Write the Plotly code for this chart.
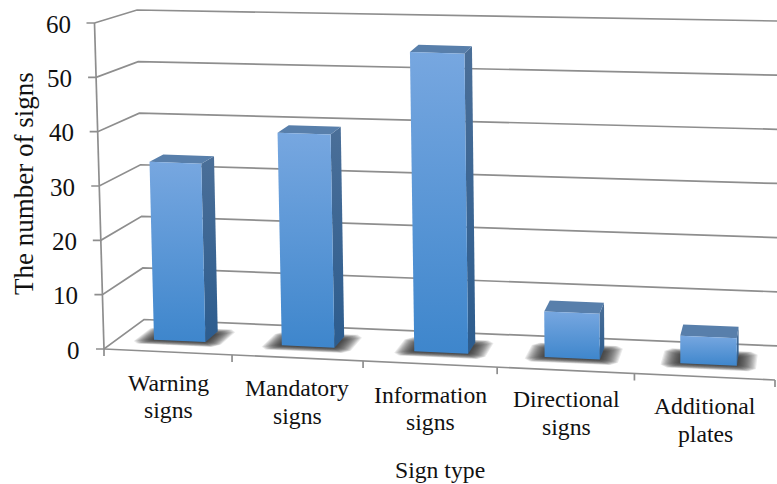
import plotly.graph_objects as go

# Chart data
categories = [["Warning", "signs"], ["Mandatory", "signs"], ["Information", "signs"],
              ["Directional", "signs"], ["Additional", "plates"]]
sign_counts = [33.3, 39.6, 55.4, 8.4, 5]
value_ticks = [0, 10, 20, 30, 40, 50, 60]
label_centres = [(168, 383, 410), (297, 388, 416), (430, 395, 422), (566, 399, 427), (705, 406, 434)]
bar_nudge = [-0.012, 0.0, 0.025, 0.01, 0.012]

# Corners of the chart box on the page: (front/back, left/right, floor/ceiling)
FLB, FLT = (104, 349), (94.5, 23)
BLB, BLT = (144, 319.5), (137, 10)
FRB, FRT = (775, 380), (775, 48)
BRB, BRT = (778, 346), (778, 21)
X_SQUEEZE = 1.06
Y_MAX = 60
N_CAT = len(categories)


def lerp(a, b, t):
    return a + (b - a) * t


def proj(cat, value, depth):
    """Project (category position, value, depth 0..1) onto the page."""
    u = cat / N_CAT
    t = u / (u + X_SQUEEZE * (1 - u))
    v = value / Y_MAX
    pts = []
    for i in range(2):
        fl = lerp(FLB[i], FLT[i], v)
        fr = lerp(FRB[i], FRT[i], v)
        bl = lerp(BLB[i], BLT[i], v)
        br = lerp(BRB[i], BRT[i], v)
        pts.append(lerp(lerp(fl, fr, t), lerp(bl, br, t), depth))
    return pts


fig = go.Figure()


def polyline(points, color="#8e8e8e", width=1.7):
    fig.add_trace(go.Scatter(x=[p[0] for p in points], y=[p[1] for p in points], mode="lines",
                             line=dict(color=color, width=width), hoverinfo="skip", showlegend=False))


def face(points, color=None, gradient=None):
    xs = [p[0] for p in points] + [points[0][0]]
    ys = [p[1] for p in points] + [points[0][1]]
    kw = dict(fillgradient=gradient) if gradient else dict(fillcolor=color)
    fig.add_trace(go.Scatter(x=xs, y=ys, mode="lines", fill="toself", line=dict(width=0),
                             hoverinfo="skip", showlegend=False, **kw))


# Gridlines on the left wall and back wall
for v in value_ticks:
    polyline([[proj(0, v, 0)[0] - 8, proj(0, v, 0)[1]], proj(0, v, 0), proj(0, v, 1), proj(N_CAT, v, 1)])

# Front edge of the value axis and the floor
polyline([proj(0, 0, 0), proj(0, Y_MAX, 0)])
polyline([proj(0, 0, 0), proj(N_CAT, 0, 0)])
for c in range(N_CAT + 1):
    a = proj(c, 0, 0)
    polyline([a, [a[0], a[1] + 7]])

HALF = 0.205
Z0, Z1 = 0.37, 0.72

# Soft shadows on the floor, built from stacked translucent footprints
SHADOW_STEPS = 16
for i in range(len(sign_counts)):
    c = i + 0.5 + bar_nudge[i]
    for s in range(SHADOW_STEPS):
        k = 1 - s / (SHADOW_STEPS - 1)
        ex = 0.01 + 0.13 * k
        front = Z0 - 0.01 - 0.14 * k
        back = Z1 - 0.08 + 0.16 * k
        cut = 0.02 + 0.03 * k
        dz = 0.03 + 0.05 * k
        lft, rgt = c - HALF - ex, c + HALF + ex
        face([proj(lft + cut, 0, front), proj(rgt - cut, 0, front), proj(rgt, 0, front + dz),
              proj(rgt, 0, back - dz), proj(rgt - cut, 0, back), proj(lft + cut, 0, back),
              proj(lft, 0, back - dz), proj(lft, 0, front + dz)],
             color="rgba(35,35,35,0.1)")

# Bars
for i, val in enumerate(sign_counts):
    c = i + 0.5 + bar_nudge[i]
    l, r = c - HALF, c + HALF
    face([proj(r, 0, Z0), proj(r, 0, Z1), proj(r, val, Z1), proj(r, val, Z0)],
         gradient=dict(type="vertical", colorscale=[[0, "#2c5c8e"], [1, "#4b6f98"]]))
    face([proj(l, val, Z0), proj(r, val, Z0), proj(r, val, Z1), proj(l, val, Z1)], color="#587fab")
    face([proj(l, 0, Z0), proj(r, 0, Z0), proj(r, val, Z0), proj(l, val, Z0)],
         gradient=dict(type="vertical", colorscale=[[0, "#3e86cc"], [1, "#77a7e0"]]))

SERIF = "Liberation Serif"
notes = []
for v in value_ticks:
    p = proj(0, v, 0)
    notes.append(dict(x=p[0] - 23, y=p[1] + 1, text=str(v), xanchor="right", yanchor="middle",
                      font=dict(size=25, color="#111111", family=SERIF)))
for (a, b), (cx, y1, y2) in zip(categories, label_centres):
    for text, y in ((a, y1), (b, y2)):
        notes.append(dict(x=cx, y=y, text=text, xanchor="center", yanchor="middle",
                          font=dict(size=23.7, color="#111111", family=SERIF)))
notes.append(dict(x=440, y=470, text="Sign type", xanchor="center", yanchor="middle",
                  font=dict(size=23.7, color="#111111", family=SERIF)))
notes.append(dict(x=24, y=184, text="The number of signs", textangle=-90, xanchor="center", yanchor="middle",
                  font=dict(size=27, color="#111111", family=SERIF)))
for n in notes:
    n.update(xref="x", yref="y", showarrow=False, borderpad=0)

fig.update_layout(
    width=777, height=484, margin=dict(l=0, r=0, t=0, b=0),
    paper_bgcolor="white", plot_bgcolor="white", showlegend=False, annotations=notes,
    xaxis=dict(range=[0, 777], visible=False),
    yaxis=dict(range=[484, 0], visible=False),
)
fig.write_html("out.html")
